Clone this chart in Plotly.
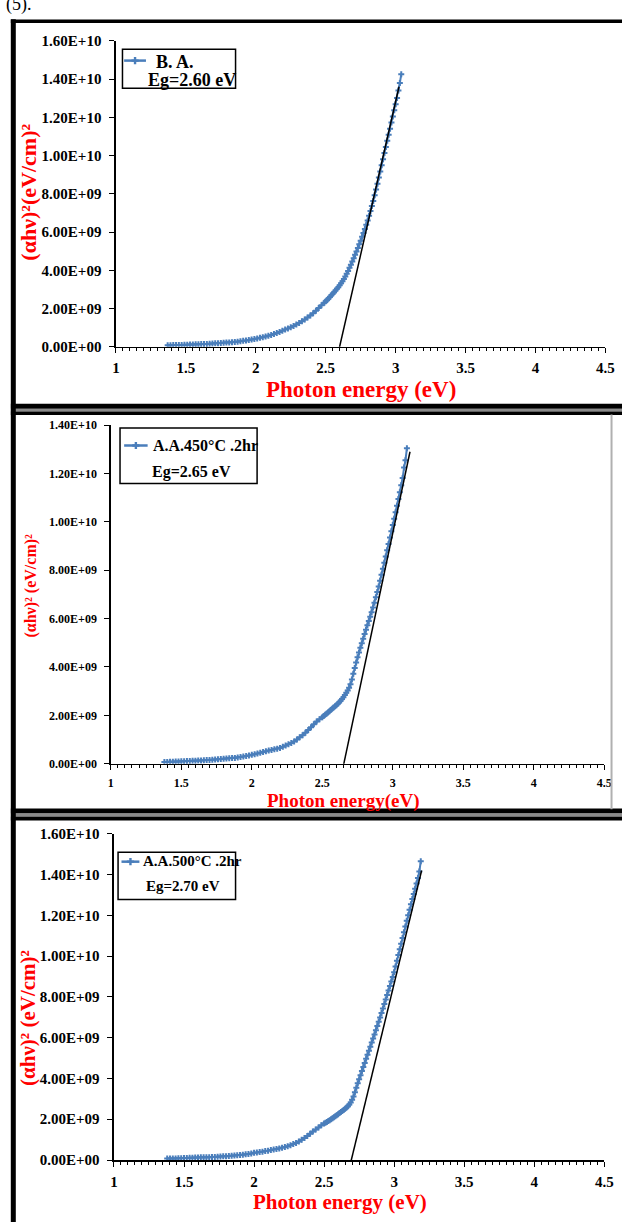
import plotly.graph_objects as go

W, H = 622, 1222

# ---------------- data (y values in units of 1e9 (eV/cm)^2) ----------------
# Panel 1 : B. A.
ba_x = [1.37,1.39,1.41,1.43,1.45,1.47,1.49,1.51,1.53,1.55,
        1.57,1.59,1.61,1.63,1.65,1.67,1.69,1.71,1.73,1.75,
        1.77,1.79,1.81,1.83,1.85,1.87,1.89,1.91,1.93,1.95,
        1.97,1.99,2.01,2.03,2.05,2.07,2.09,2.11,2.13,2.15,
        2.17,2.19,2.21,2.23,2.25,2.27,2.29,2.31,2.33,2.35,
        2.37,2.39,2.41,2.43,2.45,2.47,2.49,
        2.50,2.51,2.52,2.53,2.54,2.55,2.56,2.57,2.58,2.59,
        2.60,2.61,2.62,2.63,2.64,2.65,2.66,2.67,2.68,2.69,
        2.70,2.71,2.72,2.73,2.74,2.75,2.76,2.77,2.78,2.79,
        2.80,2.81,2.82,2.83,2.84,2.85,2.86,2.87,2.88,2.89,
        2.90,2.91,2.92,2.93,2.94,2.95,2.96,2.97,2.98,2.99,
        3.00,3.01,3.02,3.03,3.04]
ba_y = [0.08,0.08,0.09,0.09,0.10,0.10,0.11,0.11,0.12,0.12,
        0.13,0.13,0.14,0.14,0.15,0.16,0.17,0.18,0.19,0.20,
        0.21,0.22,0.23,0.24,0.25,0.27,0.29,0.31,0.33,0.35,
        0.38,0.41,0.44,0.47,0.50,0.54,0.58,0.62,0.67,0.72,
        0.78,0.84,0.90,0.96,1.02,1.09,1.17,1.25,1.34,1.43,
        1.53,1.64,1.76,1.89,2.03,2.17,2.31,
        2.38,2.45,2.53,2.61,2.69,2.77,2.85,2.94,3.03,3.12,
        3.22,3.32,3.43,3.55,3.68,3.82,3.97,4.13,4.29,4.46,
        4.63,4.81,4.99,5.17,5.36,5.55,5.75,5.95,6.16,6.38,
        6.61,6.85,7.10,7.36,7.63,7.92,8.22,8.53,8.85,9.17,
        9.49,9.81,10.13,10.45,10.77,11.09,11.41,11.73,12.05,12.37,
        12.69,13.01,13.40,13.80,14.25]
ba_fit_x = [2.594, 3.024]
ba_fit_y = [-0.17, 13.6]

# Panel 2 : A.A.450°C .2hr
a450_x = [1.38,1.40,1.42,1.44,1.46,1.48,1.50,1.52,1.54,1.56,
          1.58,1.60,1.62,1.64,1.66,1.68,1.70,1.72,1.74,1.76,
          1.78,1.80,1.82,1.84,1.86,1.88,1.90,1.92,1.94,1.96,
          1.98,2.00,2.02,2.04,2.06,2.08,2.10,2.12,2.14,2.16,
          2.18,2.20,2.22,2.24,2.26,2.28,2.30,2.32,2.34,2.36,
          2.38,2.40,2.42,2.44,2.46,2.48,
          2.50,2.51,2.52,2.53,2.54,2.55,2.56,2.57,2.58,2.59,
          2.60,2.61,2.62,2.63,2.64,2.65,2.66,2.67,2.68,2.69,
          2.70,2.71,2.72,2.73,2.74,2.75,2.76,2.77,2.78,2.79,
          2.80,2.81,2.82,2.83,2.84,2.85,2.86,2.87,2.88,2.89,
          2.90,2.91,2.92,2.93,2.94,2.95,2.96,2.97,2.98,2.99,
          3.00,3.01,3.02,3.03,3.04,3.05,3.06,3.07,3.08,3.09,
          3.10]
a450_y = [0.07,0.07,0.08,0.08,0.09,0.09,0.10,0.10,0.11,0.11,
          0.12,0.12,0.13,0.13,0.14,0.15,0.15,0.16,0.17,0.18,
          0.19,0.20,0.21,0.22,0.23,0.24,0.26,0.28,0.30,0.32,
          0.34,0.37,0.39,0.42,0.45,0.48,0.51,0.54,0.57,0.60,
          0.62,0.65,0.70,0.75,0.80,0.86,0.92,1.00,1.09,1.18,
          1.28,1.39,1.51,1.63,1.74,1.84,
          1.92,1.97,2.02,2.07,2.12,2.17,2.22,2.27,2.32,2.37,
          2.42,2.48,2.54,2.60,2.67,2.75,2.84,2.93,3.03,3.14,
          3.28,3.48,3.72,3.96,4.18,4.40,4.60,4.79,4.98,5.17,
          5.36,5.54,5.72,5.90,6.08,6.26,6.46,6.66,6.88,7.10,
          7.33,7.57,7.81,8.06,8.31,8.57,8.83,9.09,9.35,9.61,
          9.87,10.13,10.40,10.67,10.95,11.23,11.52,11.82,12.25,12.55,
          13.05]
a450_fit_x = [2.629, 3.122]
a450_fit_y = [-0.65, 12.9]

# Panel 3 : A.A.500°C .2hr
a500_x = [1.38,1.40,1.42,1.44,1.46,1.48,1.50,1.52,1.54,1.56,
          1.58,1.60,1.62,1.64,1.66,1.68,1.70,1.72,1.74,1.76,
          1.78,1.80,1.82,1.84,1.86,1.88,1.90,1.92,1.94,1.96,
          1.98,2.00,2.02,2.04,2.06,2.08,2.10,2.12,2.14,2.16,
          2.18,2.20,2.22,2.24,2.26,2.28,2.30,2.32,2.34,2.36,
          2.38,2.40,2.42,2.44,2.46,2.48,
          2.50,2.51,2.52,2.53,2.54,2.55,2.56,2.57,2.58,2.59,
          2.60,2.61,2.62,2.63,2.64,2.65,2.66,2.67,2.68,2.69,
          2.70,2.71,2.72,2.73,2.74,2.75,2.76,2.77,2.78,2.79,
          2.80,2.81,2.82,2.83,2.84,2.85,2.86,2.87,2.88,2.89,
          2.90,2.91,2.92,2.93,2.94,2.95,2.96,2.97,2.98,2.99,
          3.00,3.01,3.02,3.03,3.04,3.05,3.06,3.07,3.08,3.09,
          3.10,3.11,3.12,3.13,3.14,3.15,3.16,3.17,3.18,3.19]
a500_y = [0.07,0.07,0.08,0.08,0.09,0.09,0.10,0.10,0.11,0.11,
          0.12,0.12,0.13,0.13,0.14,0.14,0.15,0.15,0.16,0.17,
          0.18,0.19,0.20,0.21,0.22,0.23,0.24,0.26,0.28,0.30,
          0.32,0.35,0.37,0.39,0.41,0.44,0.46,0.49,0.51,0.54,
          0.57,0.60,0.64,0.68,0.73,0.78,0.84,0.91,0.99,1.08,
          1.18,1.29,1.40,1.50,1.60,1.70,
          1.79,1.83,1.87,1.91,1.95,2.00,2.05,2.10,2.15,2.20,
          2.25,2.30,2.35,2.40,2.45,2.51,2.57,2.64,2.72,2.82,
          2.95,3.12,3.32,3.54,3.76,3.96,4.16,4.36,4.56,4.76,
          4.96,5.16,5.36,5.56,5.76,5.96,6.16,6.36,6.57,6.78,
          6.99,7.21,7.43,7.65,7.87,8.09,8.31,8.53,8.75,8.98,
          9.21,9.49,9.77,10.05,10.33,10.61,10.89,11.17,11.45,11.73,
          12.00,12.27,12.54,12.80,13.05,13.30,13.56,13.83,14.15,14.65]
a500_fit_x = [2.661, 3.196]
a500_fit_y = [-0.94, 14.2]

x_tickvals = [1, 1.5, 2, 2.5, 3, 3.5, 4, 4.5]
x_ticktext = ["1", "1.5", "2", "2.5", "3", "3.5", "4", "4.5"]
y16_tickvals = [0, 2e9, 4e9, 6e9, 8e9, 1e10, 1.2e10, 1.4e10, 1.6e10]
y16_ticktext = ["0.00E+00", "2.00E+09", "4.00E+09", "6.00E+09", "8.00E+09",
                "1.00E+10", "1.20E+10", "1.40E+10", "1.60E+10"]
y14_tickvals = y16_tickvals[:-1]
y14_ticktext = y16_ticktext[:-1]

series_names = ["B. A.", "A.A.450°C .2hr", "A.A.500°C .2hr"]
eg_labels = ["Eg=2.60 eV", "Eg=2.65 eV", "Eg=2.70 eV"]

E9 = 1e9
BLUE = "#4A7EBB"
RED = "#FF0000"
FONT = "Liberation Serif"


def fx(px):
    return px / W


def fy(py):
    return 1 - py / H


fig = go.Figure()

panels = [
    dict(x=ba_x, y=ba_y, fx=ba_fit_x, fy=ba_fit_y, xa="x", ya="y"),
    dict(x=a450_x, y=a450_y, fx=a450_fit_x, fy=a450_fit_y, xa="x2", ya="y2"),
    dict(x=a500_x, y=a500_y, fx=a500_fit_x, fy=a500_fit_y, xa="x3", ya="y3"),
]
for p in panels:
    fig.add_trace(go.Scatter(
        x=p["x"], y=[v * E9 for v in p["y"]], mode="lines+markers",
        line=dict(color=BLUE, width=2),
        marker=dict(symbol="cross", size=5, color=BLUE),
        xaxis=p["xa"], yaxis=p["ya"], showlegend=False, hoverinfo="skip"))
    fig.add_trace(go.Scatter(
        x=p["fx"], y=[v * E9 for v in p["fy"]], mode="lines",
        line=dict(color="black", width=1.5),
        xaxis=p["xa"], yaxis=p["ya"], showlegend=False, hoverinfo="skip"))

geo = [
    dict(xl=114.3, xr=614.3, yt=33.3, yb=343.3, ymax=1.6e10, tv=y16_tickvals, tt=y16_ticktext, fs=15),
    dict(xl=109.1, xr=613.1, yt=422.7, yb=765.7, ymax=1.4e10, tv=y14_tickvals, tt=y14_ticktext, fs=12),
    dict(xl=112.3, xr=613.1, yt=836.7, yb=1167.3, ymax=1.6e10, tv=y16_tickvals, tt=y16_ticktext, fs=15),
]

layout = dict(
    width=W, height=H, autosize=False,
    margin=dict(l=0, r=0, t=0, b=0),
    paper_bgcolor="white", plot_bgcolor="rgba(0,0,0,0)",
    showlegend=False,
)
for i, g in enumerate(geo):
    sfx = "" if i == 0 else str(i + 1)
    tf = dict(family=FONT, size=g["fs"], color="black", weight="bold")
    layout["xaxis" + sfx] = dict(
        domain=[fx(g["xl"]), fx(g["xr"])], range=[1, 4.5],
        anchor="y" + sfx, showgrid=False, zeroline=False,
        showline=True, linecolor="black", linewidth=1.5,
        tickmode="array", tickvals=x_tickvals, ticktext=x_ticktext,
        ticks="outside", ticklen=5, tickwidth=1, tickcolor="black",
        tickfont=tf, ticklabelstandoff=2,
        minor=dict(tickmode="linear", tick0=1, dtick=0.05, ticks="outside",
                   ticklen=3, tickwidth=1, tickcolor="black", showgrid=False),
        fixedrange=True,
    )
    layout["yaxis" + sfx] = dict(
        domain=[fy(g["yb"]), fy(g["yt"])], range=[0, g["ymax"]],
        anchor="x" + sfx, showgrid=False, zeroline=False,
        showline=True, linecolor="black", linewidth=1.5,
        tickmode="array", tickvals=g["tv"], ticktext=g["tt"],
        ticks="outside", ticklen=5, tickwidth=1, tickcolor="black",
        tickfont=tf, ticklabelstandoff=5,
        fixedrange=True,
    )

layout["xaxis4"] = dict(domain=[0, 1], range=[0, W], visible=False, anchor="y4", fixedrange=True)
layout["yaxis4"] = dict(domain=[0, 1], range=[H, 0], visible=False, anchor="x4", fixedrange=True)
fig.update_layout(**layout)

legends = [
    dict(box=(121, 41.7, 236.5, 81.3), line=(122.7, 145, 53.3), t1=(153, 55, 18), t2=(145, 72.7, 18)),
    dict(box=(118.5, 425.5, 258.5, 481.7), line=(122.7, 146.7, 443.3), t1=(150.5, 443.5, 16), t2=(149.3, 470, 16)),
    dict(box=(116.5, 855.5, 236.5, 903.3), line=(120, 138.3, 865), t1=(139.5, 864.5, 15), t2=(143.3, 889.3, 15)),
]
shapes = []
annotations = []
for i, lg in enumerate(legends):
    x0, y0, x1, y1 = lg["box"]
    shapes.append(dict(type="rect", xref="paper", yref="paper",
                       x0=fx(x0), x1=fx(x1), y0=fy(y1), y1=fy(y0),
                       line=dict(color="black", width=1.5), fillcolor="white", layer="below"))
    lx0, lx1, ly = lg["line"]
    fig.add_trace(go.Scatter(x=[lx0, lx1], y=[ly, ly], mode="lines",
                             line=dict(color=BLUE, width=2.5),
                             xaxis="x4", yaxis="y4", showlegend=False, hoverinfo="skip"))
    fig.add_trace(go.Scatter(x=[(lx0 + lx1) / 2], y=[ly], mode="markers",
                             marker=dict(symbol="cross", size=6, color=BLUE),
                             xaxis="x4", yaxis="y4", showlegend=False, hoverinfo="skip"))
    tx, ty, ts = lg["t1"]
    annotations.append(dict(text=series_names[i], x=fx(tx), y=fy(ty), xref="paper", yref="paper",
                            xanchor="left", yanchor="middle", showarrow=False,
                            font=dict(family=FONT, size=ts, color="black", weight="bold")))
    tx, ty, ts = lg["t2"]
    annotations.append(dict(text=eg_labels[i], x=fx(tx), y=fy(ty), xref="paper", yref="paper",
                            xanchor="left", yanchor="middle", showarrow=False,
                            font=dict(family=FONT, size=ts, color="black", weight="bold")))

y_titles = [("(αhν)²(eV/cm)²", 24.6, 187, 22),
            ("(αhν)² (eV/cm)²", 27.8, 585, 16),
            ("(αhν)² (eV/cm)²", 23.8, 1023, 21)]
x_titles = [("Photon energy (eV)", 365, 387, 23),
            ("Photon energy(eV)", 347, 804, 19),
            ("Photon energy (eV)", 343, 1210, 21)]
for t, x, y, s in y_titles:
    annotations.append(dict(text=t, x=fx(x), y=fy(y), xref="paper", yref="paper",
                            xanchor="center", yanchor="middle", textangle=-90, showarrow=False,
                            font=dict(family=FONT, size=s, color=RED, weight="bold")))
for t, x, y, s in x_titles:
    annotations.append(dict(text=t, x=fx(x), y=fy(y), xref="paper", yref="paper",
                            xanchor="center", yanchor="middle", showarrow=False,
                            font=dict(family=FONT, size=s, color=RED, weight="bold")))

annotations.append(dict(text="(5).", x=fx(0), y=fy(-4), xref="paper", yref="paper",
                        xanchor="left", yanchor="middle", showarrow=False,
                        font=dict(family=FONT, size=18, color="black")))


def hline(y, x0, x1, color, w):
    return dict(type="line", xref="paper", yref="paper", x0=fx(x0), x1=fx(x1),
                y0=fy(y), y1=fy(y), line=dict(color=color, width=w))


def vline(x, y0, y1, color, w):
    return dict(type="line", xref="paper", yref="paper", x0=fx(x), x1=fx(x),
                y0=fy(y0), y1=fy(y1), line=dict(color=color, width=w))


shapes += [
    hline(13.3, 7, 640, "black", 3.5),
    hline(403.5, 7, 640, "black", 5),
    hline(407.5, 7, 640, "#8a8a8a", 2.5),
    hline(410.5, 7, 640, "black", 3.5),
    hline(813.7, 7, 640, "black", 5),
    hline(817.7, 7, 640, "#8a8a8a", 2.5),
    hline(821.3, 7, 640, "black", 4),
    vline(9.5, 11.5, 1240, "black", 5),
    vline(620.5, 412, 812, "#b0b0b0", 2),
]

fig.update_layout(shapes=shapes, annotations=annotations)
fig.write_html(
    "out.html",
    config={"displayModeBar": False, "staticPlot": True},
    post_script="document.body.style.margin='0px';document.body.style.overflow='hidden';",
)
